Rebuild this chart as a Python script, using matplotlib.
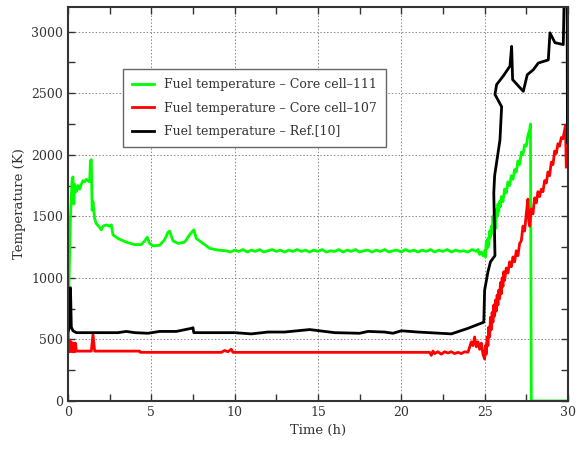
import matplotlib
matplotlib.use("Agg")
import matplotlib.pyplot as plt
from matplotlib.ticker import MultipleLocator

plt.rcParams['font.family'] = ['DejaVu Serif']

# ---- data ----
green_t = [0.0, 0.05, 0.1, 0.15, 0.2, 0.25, 0.3, 0.35, 0.4, 0.5, 0.6, 0.7, 0.8, 0.9, 1.0,
           1.1, 1.2, 1.3, 1.35, 1.4, 1.45, 1.5, 1.6, 1.7, 1.9, 2.0, 2.1, 2.3, 2.5, 2.6, 2.7,
           3.0, 3.5, 4.0, 4.4, 4.6, 4.75, 4.9, 5.1, 5.5, 5.8, 6.0, 6.1, 6.3, 6.6, 7.0, 7.3,
           7.55, 7.7, 8.0, 8.5, 9.0, 9.5,
           9.75, 10.0, 10.25, 10.5, 10.75, 11.0, 11.25, 11.5, 11.75, 12.0, 12.25, 12.5, 12.75,
           13.0, 13.25, 13.5, 13.75, 14.0, 14.25, 14.5, 14.75, 15.0, 15.25, 15.5, 15.75, 16.0,
           16.25, 16.5, 16.75, 17.0, 17.25, 17.5, 17.75, 18.0, 18.25, 18.5, 18.75, 19.0, 19.25,
           19.5, 19.75, 20.0, 20.25, 20.5, 20.75, 21.0, 21.25, 21.5, 21.75, 22.0, 22.25, 22.5,
           22.75, 23.0, 23.25, 23.5, 23.75, 24.0, 24.25, 24.5,
           24.6, 24.7, 24.8, 24.9, 25.0, 25.05, 25.1, 25.15, 25.2, 25.25, 25.3, 25.35, 25.4,
           25.45, 25.5, 25.55, 25.6, 25.65, 25.7, 25.75, 25.8, 25.85, 25.9, 25.95, 26.0, 26.1,
           26.2, 26.3, 26.4, 26.5, 26.6, 26.7, 26.8, 26.9, 27.0, 27.1, 27.2, 27.3, 27.4, 27.5,
           27.6, 27.7, 27.75, 27.8, 30.0]
green_T = [600, 900, 1200, 1500, 1650, 1800, 1820, 1600, 1760, 1700, 1750, 1720, 1760, 1790, 1780,
           1800, 1790, 1780, 1950, 1960, 1550, 1620, 1480, 1440, 1410, 1390, 1420, 1430, 1420, 1430, 1350,
           1320, 1290, 1270, 1270, 1300, 1330, 1280, 1260, 1265, 1310, 1370, 1380, 1300, 1280, 1290, 1350,
           1390, 1320, 1290, 1240, 1225, 1220,
           1210, 1225, 1215, 1230, 1210, 1225, 1215, 1230, 1210, 1220, 1230, 1215, 1225,
           1210, 1225, 1215, 1230, 1215, 1225, 1210, 1225, 1215, 1230, 1210, 1220, 1215,
           1230, 1210, 1225, 1215, 1230, 1210, 1220, 1225, 1210, 1225, 1215, 1230, 1210,
           1220, 1225, 1210, 1230, 1215, 1225, 1210, 1225, 1215, 1230, 1210, 1225, 1215,
           1230, 1210, 1225, 1215, 1220, 1210, 1230, 1215,
           1230, 1190, 1210, 1180, 1220, 1170, 1300, 1240, 1320, 1260, 1380, 1330, 1420,
           1360, 1500, 1410, 1480, 1400, 1560, 1500, 1600, 1540, 1620, 1580, 1660, 1620,
           1720, 1690, 1780, 1750, 1830, 1800, 1880, 1860, 1950, 1920, 2020, 2000, 2080, 2070,
           2160, 2200, 2250, 0, 0]

red_t = [0.0, 0.03, 0.1, 0.12, 0.2, 0.25, 0.3, 0.35, 0.4, 0.45, 0.5, 1.4, 1.5, 1.6, 4.3, 4.35,
         9.2, 9.4, 9.6, 9.8, 9.9, 21.7, 21.8, 21.9, 22.0, 22.2, 22.4, 22.6, 22.8, 23.0, 23.2,
         23.4, 23.6, 23.8, 24.0, 24.2, 24.3, 24.4, 24.5, 24.6, 24.7, 24.8, 24.9,
         25.0, 25.05, 25.1, 25.15, 25.2, 25.25, 25.3, 25.35, 25.4, 25.45, 25.5, 25.55, 25.6,
         25.65, 25.7, 25.75, 25.8, 25.85, 25.9, 25.95, 26.0, 26.05, 26.1, 26.15, 26.2, 26.3,
         26.4, 26.5, 26.6, 26.7, 26.8, 26.9, 27.0, 27.1, 27.2, 27.3, 27.4, 27.5, 27.6, 27.65,
         27.7, 27.8, 27.9, 28.0, 28.1, 28.2, 28.3, 28.4, 28.5, 28.6, 28.7, 28.8, 28.9, 29.0,
         29.1, 29.2, 29.3, 29.4, 29.5, 29.6, 29.7, 29.8, 29.85, 29.9]
red_T = [620, 400, 490, 400, 480, 400, 400, 470, 400, 470, 405, 405, 540, 405, 405, 395,
         395, 410, 400, 420, 395, 395, 370, 405, 385, 400, 380, 400, 390, 400, 385,
         395, 385, 400, 395, 480, 450, 520, 440, 480, 420, 470, 380,
         340, 450, 380, 520, 450, 600, 520, 680, 580, 720, 640, 780, 690,
         820, 730, 860, 780, 900, 830, 960, 870, 1000, 930, 1050, 980, 1080,
         1040, 1130, 1090, 1170, 1130, 1220, 1180, 1280, 1300, 1420, 1380, 1520, 1640, 1460,
         1420, 1560, 1520, 1650, 1610, 1700, 1660, 1720, 1700, 1790, 1770, 1860, 1830, 1940,
         1920, 2030, 2010, 2090, 2070, 2140, 2130, 2200, 2240, 1900]

ref_t = [0.0, 0.08, 0.1, 0.15, 0.2, 0.3, 0.5, 3.0, 3.5, 4.0, 4.8, 5.5, 6.5, 7.4, 7.5, 7.55,
         10.0, 11.0, 12.0, 13.0, 14.5, 16.0, 17.5, 18.0, 19.0, 19.5, 20.0, 21.0, 23.0, 24.0,
         24.95, 25.0, 25.2, 25.35, 25.62, 25.55, 25.6, 25.92, 26.02, 25.62, 25.72, 26.12,
         26.52, 26.62, 26.68, 27.32, 27.56, 27.92, 28.22, 28.82, 28.92, 29.22, 29.72, 29.76,
         29.95, 29.97]
ref_T = [560, 600, 900, 920, 600, 570, 555, 555, 565, 555, 550, 565, 565, 590, 595, 555,
         555, 545, 560, 560, 580, 555, 550, 565, 560, 550, 570, 560, 545, 590,
         640, 900, 1050, 1130, 1180, 1690, 1830, 2120, 2390, 2490, 2570, 2640,
         2720, 2880, 2610, 2515, 2650, 2690, 2745, 2770, 2990, 2910, 2895, 3190,
         3300, 2100]

labels = ["Fuel temperature \u2013 Core cell\u2013111",
          "Fuel temperature \u2013 Core cell\u2013107",
          "Fuel temperature \u2013 Ref.[10]"]

fig = plt.figure(figsize=(5.83, 4.51), dpi=100)
ax = fig.add_axes([0.1166, 0.1109, 0.8576, 0.8736])

ax.plot(green_t, green_T, color='#00ff00', lw=2, label=labels[0])
ax.plot(red_t, red_T, color='#ff0000', lw=2, label=labels[1])
ax.plot(ref_t, ref_T, color='black', lw=2, label=labels[2])

ax.set_xlim(0, 30)
ax.set_ylim(0, 3200)
ax.xaxis.set_major_locator(MultipleLocator(5))
ax.xaxis.set_minor_locator(MultipleLocator(2.5))
ax.yaxis.set_major_locator(MultipleLocator(500))
ax.yaxis.set_minor_locator(MultipleLocator(250))
ax.tick_params(which='both', direction='in', top=True, right=True, color='#333333',
               labelsize=9, labelcolor='#333333')
ax.tick_params(which='major', length=5, width=1)
ax.tick_params(which='minor', length=5, width=1)
ax.grid(True, which='major', linestyle=(0, (1.5, 2)), color='#888888', lw=0.7)
for s in ax.spines.values():
    s.set_color('#333333')
    s.set_linewidth(1.5)

ax.set_xlabel("Time (h)", fontsize=9.5, color='#333333')
ax.set_ylabel("Temperature (K)", fontsize=9.5, color='#333333')

leg = ax.legend(loc='upper left', bbox_to_anchor=(0.098, 0.858), fontsize=9,
                fancybox=False, framealpha=1, edgecolor='#666666',
                handlelength=1.8, labelspacing=0.85, borderpad=0.7)
leg.get_frame().set_linewidth(1.0)
for t in leg.get_texts():
    t.set_color('#333333')

fig.savefig("out.png", dpi=100)
